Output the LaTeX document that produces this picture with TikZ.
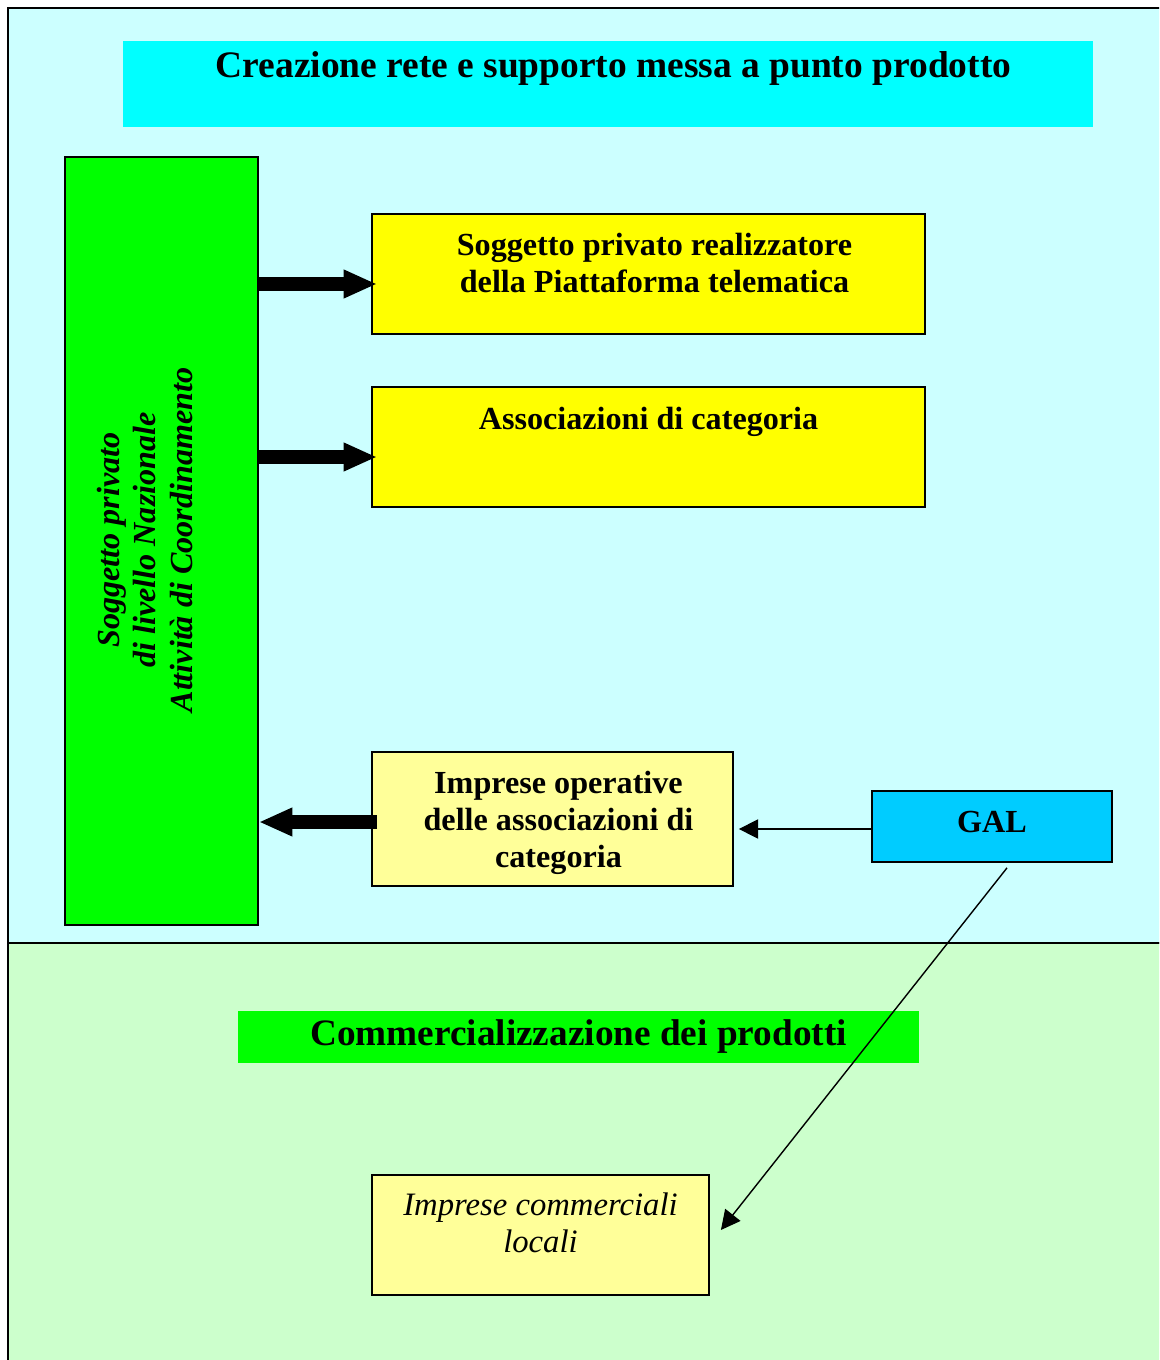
\documentclass[tikz,border=0pt]{standalone}
\usepackage{fontspec}
\setmainfont{Liberation Serif}
\usetikzlibrary{arrows.meta,calc}

\definecolor{hatterkek}{HTML}{CCFFFF}
\definecolor{hatterzold}{HTML}{CCFFCC}
\definecolor{cimkek}{HTML}{00FFFF}
\definecolor{elenkzold}{HTML}{00FF00}
\definecolor{sarga}{HTML}{FFFF00}
\definecolor{halvanysarga}{HTML}{FFFF99}
\definecolor{galkek}{HTML}{00CCFF}

\begin{document}
\begin{tikzpicture}[
		outer/.style={draw,line width=1pt,rectangle,inner sep=0pt},
		box/.style={draw,line width=1pt,rectangle,inner sep=0pt,align=center,font=\fontsize{18.3}{21}\selectfont\bfseries},
		banner/.style={rectangle,inner sep=0pt,align=center},
		blockarrow/.style={line width=8pt,-{Triangle[length=19pt,width=15pt]}},
		thinarrow/.style={line width=0.8pt,-{Triangle[length=11pt,width=11pt]}}
		]
	\useasboundingbox (0,0) rectangle (23.18,-27.2);
	\clip (0,0) rectangle (23.18,-27.2);

	% Hatter
	% ----------------------
	\node[outer,fill=hatterkek, minimum width=23.44cm, minimum height=18.7cm] (upper) at (11.88,-9.51) {};
	\node[outer,fill=hatterzold, minimum width=23.44cm, minimum height=8.74cm] (lower) at (11.88,-23.23) {};

	% Cimek
	\node[banner,fill=cimkek, minimum width=19.4cm, minimum height=1.72cm,
	label={[anchor=north,xshift=0.11cm,inner sep=0pt,label distance=-0.22cm,font=\fontsize{21.3}{24}\selectfont\bfseries]90:Creazione rete e supporto messa a punto prodotto}] (title) at (12.16,-1.68) {};

	\node[banner,fill=elenkzold, minimum width=13.62cm, minimum height=1.04cm,
	font=\fontsize{21.2}{24}\selectfont\bfseries] (commerc) at (11.57,-20.74) {Commercializzazione dei prodotti};

	% Szereplok
	% ----------------------

		% Koordinator
		\node[box,fill=elenkzold, minimum width=3.86cm, minimum height=15.36cm] (coord) at (3.23,-10.82) {};
		\node[rotate=90,align=center,font=\fontsize{18.3}{21}\selectfont\bfseries\itshape] (coordtext) at (2.9,-10.8) {Soggetto privato\\ di livello Nazionale\\ Attività di Coordinamento};

		% Piattaforma
		\node[box,fill=sarga, minimum width=11.06cm, minimum height=2.4cm,
		label={[anchor=north,xshift=0.12cm,inner sep=0pt,label distance=-0.4cm,align=center,font=\fontsize{18.3}{21}\selectfont\bfseries]90:Soggetto privato realizzatore\\della Piattaforma telematica}] (piatt) at (12.97,-5.48) {};

		% Associazioni
		\node[box,fill=sarga, minimum width=11.06cm, minimum height=2.4cm,
		label={[anchor=north,inner sep=0pt,label distance=-0.42cm,font=\fontsize{18.3}{21}\selectfont\bfseries]90:Associazioni di categoria}] (assoc) at (12.97,-8.94) {};

		% Imprese operative
		\node[box,fill=halvanysarga, minimum width=7.22cm, minimum height=2.68cm,
		label={[xshift=0.12cm,yshift=-0.08cm,align=center,inner sep=0pt,font=\fontsize{18.3}{21}\selectfont\bfseries]center:Imprese operative\\delle associazioni di\\categoria}] (oper) at (11.05,-16.38) {};

		% GAL
		\node[box,fill=galkek, minimum width=4.8cm, minimum height=1.42cm,
		label={[yshift=0.08cm,inner sep=0pt,font=\fontsize{18.3}{21}\selectfont\bfseries]center:GAL}] (gal) at (19.84,-16.53) {};

		% Imprese commerciali
		\node[box,fill=halvanysarga, minimum width=6.74cm, minimum height=2.4cm,
		label={[anchor=north,inner sep=0pt,label distance=-0.37cm,align=center,font=\fontsize{18.6}{21}\selectfont\itshape]90:Imprese commerciali\\locali}] (locali) at (10.81,-24.7) {};

	% Nyilak
	% ----------------------
	\draw[blockarrow] ($(coord.east |- piatt.west)+(0,-0.2)$) -- ($(piatt.west)+(0.12,-0.2)$);
	\draw[blockarrow] ($(coord.east |- assoc.west)+(0,-0.2)$) -- ($(assoc.west)+(0.12,-0.2)$);
	\draw[blockarrow] ($(oper.west)+(0.12,-0.06)$) -- ($(coord.east |- oper.west)+(0,-0.06)$);

	\draw[thinarrow] ($(gal.west)+(0,-0.05)$) -- ($(gal.west -| oper.east)+(0.1,-0.05)$);
	\draw[thinarrow] ($(gal.south)+(0.3,-0.1)$) -- ($(locali.east)+(0.22,0.1)$);

\end{tikzpicture}
\end{document}
